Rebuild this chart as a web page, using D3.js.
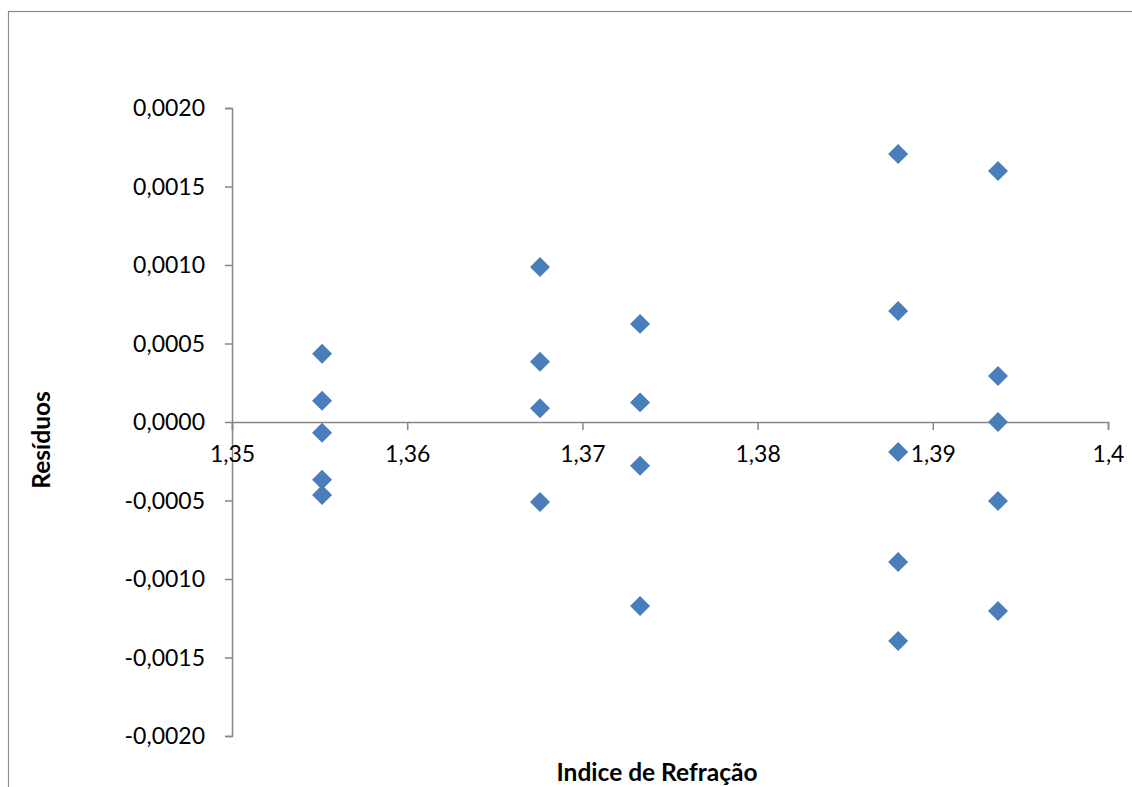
<!DOCTYPE html>
<html><head><meta charset="utf-8">
<script src="https://cdn.jsdelivr.net/npm/d3@7/dist/d3.min.js"></script>
<style>body{margin:0;background:#fff}svg{display:block}text{font-family:Lato,"Open Sans",sans-serif}</style>
</head><body>
<script>
const groupX = [1.35514, 1.36758, 1.37329, 1.38802, 1.39372];
const group1 = [0.000435, 0.000136, -0.000068, -0.000368, -0.000465];
const group2 = [0.000987, 0.000384, 0.000087, -0.000510];
const group3 = [0.000625, 0.000125, -0.000278, -0.001172];
const group4 = [0.001707, 0.000707, -0.000191, -0.000892, -0.001395];
const group5 = [0.001599, 0.000293, 0.0, -0.000503, -0.001204];
const xTicks = [1.35, 1.36, 1.37, 1.38, 1.39, 1.4];
const yTicks = [-0.002, -0.0015, -0.001, -0.0005, 0, 0.0005, 0.001, 0.0015, 0.002];
const xTitle = "Indice de Refração";
const yTitle = "Resíduos";

const points = [];
[group1, group2, group3, group4, group5].forEach((g, i) => g.forEach(v => points.push({x: groupX[i], y: v})));

const W = 1132, H = 787;
const svg = d3.select("body").append("svg").attr("width", W).attr("height", H);
svg.append("rect").attr("x", 8.5).attr("y", 11.5).attr("width", W + 10).attr("height", H + 10)
  .attr("fill", "none").attr("stroke", "#8c8c8c").attr("stroke-width", 1.2);

const x = d3.scaleLinear().domain([1.35, 1.4]).range([232, 1108]);
const y = d3.scaleLinear().domain([-0.002, 0.002]).range([736, 108]);
const axisColor = "#868686";
const fmtY = d => d3.format(".4f")(d).replace("−", "-").replace(".", ",");
const fmtX = d => String(+d.toFixed(2)).replace(".", ",");

const gy = svg.append("g").attr("transform", `translate(${x(1.35)},0)`)
  .call(d3.axisLeft(y).tickValues(yTicks).tickFormat(fmtY).tickSize(7).tickSizeOuter(7).tickPadding(20));
const gx = svg.append("g").attr("transform", `translate(0,${y(0)})`)
  .call(d3.axisBottom(x).tickValues(xTicks).tickFormat(fmtX).tickSize(8).tickSizeOuter(8).tickPadding(16));
[gx, gy].forEach(g => {
  g.selectAll("path, line").attr("stroke", axisColor).attr("stroke-width", 1.5);
  g.selectAll("text").attr("fill", "#000").style("font-size", "23px");
});
gy.selectAll("text").attr("dy", "0.34em");

svg.append("g").selectAll("path").data(points).join("path")
  .attr("d", d3.symbol(d3.symbolSquare, 200))
  .attr("transform", d => `translate(${x(d.x)},${y(d.y)}) rotate(45)`)
  .attr("fill", "#4a7ebb");

svg.append("text").attr("x", 657).attr("y", 781).attr("text-anchor", "middle")
  .style("font-size", "24.5px").style("font-weight", "bold").text(xTitle);
svg.append("text").attr("transform", "translate(50,440) rotate(-90)").attr("text-anchor", "middle")
  .style("font-size", "24.5px").style("font-weight", "bold").text(yTitle);
</script>
</body></html>
